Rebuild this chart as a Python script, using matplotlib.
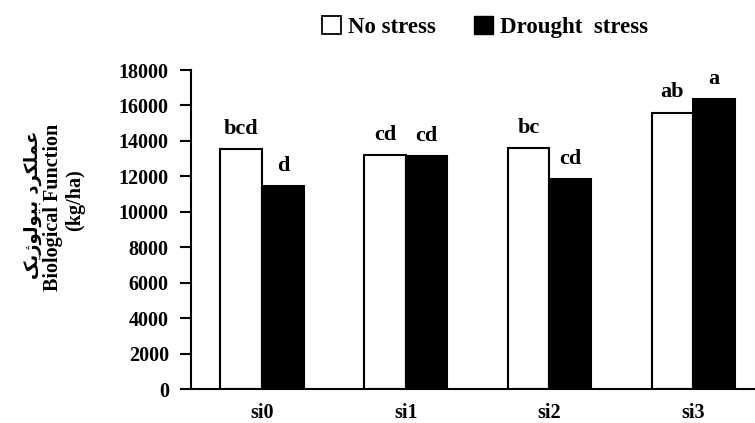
import numpy as np
import matplotlib
matplotlib.use("Agg")
import matplotlib.pyplot as plt
from matplotlib.patches import Patch

# data
categories = ["si0", "si1", "si2", "si3"]
no_stress = [13550, 13200, 13600, 15600]
drought = [11450, 13150, 11850, 16350]
letters_no = ["bcd", "cd", "bc", "ab"]
letters_dr = ["d", "cd", "cd", "a"]
yticks = list(range(0, 18001, 2000))

# presentation forms, visual order (matplotlib does no arabic shaping)
persian = ("\uFB8F\uFBFE\uFB8A\uFEEE\uFEDF\uFEEE\uFBFF\uFE91 "
           "\uFEA9\uFEAE\uFB91\uFEE0\uFEE4\uFECB")

plt.rcParams["font.family"] = ["Liberation Serif", "DejaVu Sans"]
plt.rcParams["font.weight"] = "bold"

fig = plt.figure(figsize=(7.55, 4.23), dpi=100)
ax = fig.add_axes([191/755, 1 - 389/423, 1 - 191/755, (389 - 70)/423])

x = np.arange(len(categories))
w = 0.29
ax.bar(x - w/2, no_stress, w, color="white", edgecolor="black", linewidth=1.5, zorder=2)
ax.bar(x + w/2, drought, w, color="black", edgecolor="black", linewidth=1.5, zorder=2)

for i in range(len(categories)):
    ax.annotate(letters_no[i], (x[i] - w/2, no_stress[i]), xytext=(0, 11),
                textcoords="offset points", ha="center", va="baseline",
                fontsize=16, fontweight="bold")
    ax.annotate(letters_dr[i], (x[i] + w/2, drought[i]), xytext=(0, 11),
                textcoords="offset points", ha="center", va="baseline",
                fontsize=16, fontweight="bold")

ax.set_xlim(-0.494, 3.43)
ax.set_ylim(0, 18000)
ax.set_yticks(yticks)
ax.set_xticks(x)
ax.set_xticklabels(categories)
ax.tick_params(axis="y", direction="out", length=8, width=1.5, pad=8, labelsize=14.5)
ax.tick_params(axis="x", length=0, pad=10, labelsize=14.5)
for lab in ax.get_xticklabels() + ax.get_yticklabels():
    lab.set_fontweight("bold")

ax.spines["top"].set_visible(False)
ax.spines["right"].set_visible(False)
ax.spines["left"].set_linewidth(1.5)
ax.spines["bottom"].set_linewidth(1.5)

# y label, three lines
fig.text(33/755, 1 - 205/423, persian, rotation=90, ha="center", va="center",
         fontsize=13, fontweight="bold", family=["DejaVu Sans"])
fig.text(53/755, 1 - 207/423, "Biological Function", rotation=90, ha="center",
         va="center", fontsize=14.5, fontweight="bold")
fig.text(75/755, 1 - 200/423, "(kg/ha)", rotation=90, ha="center", va="center",
         fontsize=14.5, fontweight="bold")

handles = [Patch(facecolor="white", edgecolor="black", linewidth=1.3),
           Patch(facecolor="black", edgecolor="black")]
fig.legend(handles, ["No stress", "Drought  stress"], ncol=2, loc="center",
           bbox_to_anchor=(485/755, 1 - 27/423), frameon=False,
           handlelength=0.8, handleheight=0.8, handletextpad=0.3,
           columnspacing=1.7, borderpad=0, prop={"weight": "bold", "size": 16.5})

fig.savefig("out.png", dpi=100)
